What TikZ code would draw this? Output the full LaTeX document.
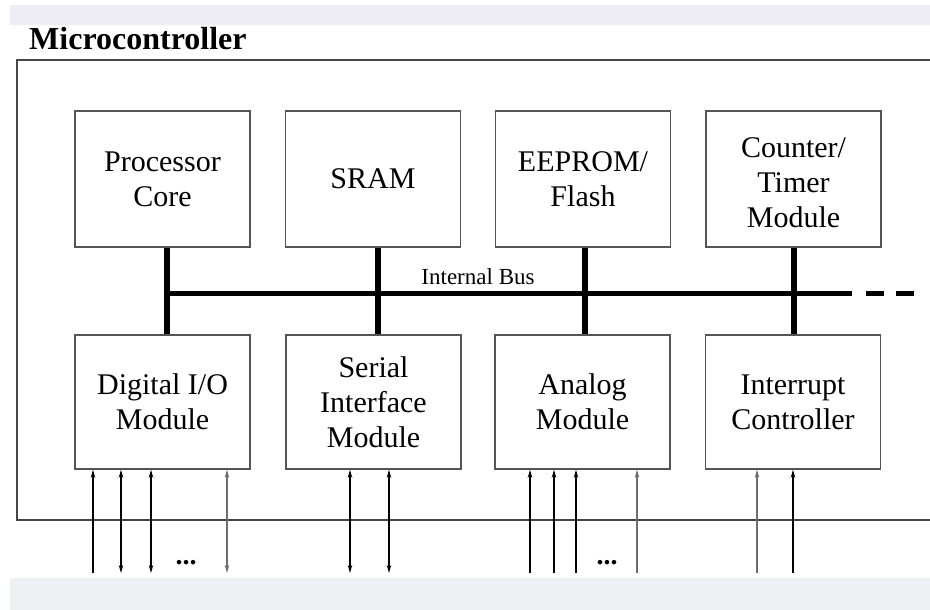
\documentclass[tikz,border=0pt]{standalone}
\usepackage{fontspec}
\setmainfont{Liberation Serif}
\usetikzlibrary{arrows.meta}
\definecolor{stripgray}{RGB}{237,237,243}
\definecolor{stripgraylow}{RGB}{238,240,244}
\definecolor{framegray}{RGB}{70,70,70}
\definecolor{boxgray}{RGB}{85,85,85}
\definecolor{siggray}{RGB}{110,110,110}
\begin{document}
\begin{tikzpicture}[x=1pt,y=-1pt,
  blk/.style={draw=boxgray,line width=1.5pt,minimum width=175pt,inner sep=0pt,
    align=center,font=\fontsize{30}{35}\selectfont},
  toprow/.style={blk,minimum height=136pt},
  botrow/.style={blk,minimum height=134pt},
  frameline/.style={draw=framegray,line width=2.2pt},
  busline/.style={line width=5pt},
  stub/.style={line width=6pt},
  sig/.style={line width=1.2pt},
  sigtip/.style={sig,-{Stealth[length=8pt,width=4.5pt]}},
  sigboth/.style={sig,{Stealth[length=8pt,width=4.5pt]}-{Stealth[length=8pt,width=4.5pt]}},
  dots/.style={font=\fontsize{28}{28}\selectfont\bfseries,inner sep=0pt}
]
\useasboundingbox (0,0) rectangle (930,610);
\fill[white] (0,0) rectangle (930,610);
\fill[stripgray] (10,5) rectangle (930,25);
\fill[stripgraylow] (10,578) rectangle (930,610);

% outer frame
\draw[frameline] (930,60) -- (17,60) -- (17,520) -- (930,520);
\node[anchor=base west,inner sep=0pt,font=\fontsize{32}{32}\selectfont\bfseries] (title) at (29,50) {Microcontroller};

% top row
\node[toprow] (pc) at (162.5,179) {Processor\\Core};
\node[toprow] (sram) at (373,179) {SRAM};
\node[toprow] (eep) at (583,179) {EEPROM/\\Flash};
\node[toprow] (ctr) at (793.5,179) {\rule{0pt}{6pt}\\[-14pt]Counter/\\Timer\\Module};

% bottom row
\node[botrow] (dio) at (162.5,402) {Digital I/O\\Module};
\node[botrow] (ser) at (373.5,402) {Serial\\Interface\\Module};
\node[botrow] (ana) at (582.5,402) {Analog\\Module};
\node[botrow] (irq) at (793,402) {Interrupt\\Controller};

% internal bus
\coordinate (busL) at (167,293);
\coordinate (busR) at (852,293);
\draw[busline] (busL) -- (busR);
\coordinate (d1a) at (866,293);
\coordinate (d1b) at (884,293);
\coordinate (d2a) at (896,293);
\coordinate (d2b) at (914,293);
\draw[busline] (d1a) -- (d1b);
\draw[busline] (d2a) -- (d2b);
\node[anchor=base,inner sep=0pt,font=\fontsize{23}{23}\selectfont] (buslbl) at (478,284) {Internal Bus};

% bus stubs
\draw[stub] ([xshift=4.5pt]pc.south) -- ([xshift=4.5pt]dio.north);
\draw[stub] ([xshift=5pt]sram.south) -- ([xshift=4.5pt]ser.north);
\draw[stub] ([xshift=2pt]eep.south) -- ([xshift=2.5pt]ana.north);
\draw[stub] ([xshift=0.5pt]ctr.south) -- ([xshift=1pt]irq.north);

% I/O lines: Digital I/O
\coordinate (a1) at (93,573);
\coordinate (a2) at (121,573);
\coordinate (a3) at (151,573);
\coordinate (a4) at (227,573);
\draw[sigtip] (a1) -- (a1 |- dio.south);
\draw[sigboth] (a2) -- (a2 |- dio.south);
\draw[sigboth] (a3) -- (a3 |- dio.south);
\draw[sigboth,draw=siggray] (a4) -- (a4 |- dio.south);
\node[dots] (dots1) at (186,563) {...};

% Serial interface
\coordinate (b1) at (350,573);
\coordinate (b2) at (389,573);
\draw[sigboth] (b1) -- (b1 |- ser.south);
\draw[sigboth] (b2) -- (b2 |- ser.south);

% Analog
\coordinate (c1) at (530,573);
\coordinate (c2) at (554,573);
\coordinate (c3) at (576,573);
\coordinate (c4) at (637,573);
\draw[sigtip] (c1) -- (c1 |- ana.south);
\draw[sigtip] (c2) -- (c2 |- ana.south);
\draw[sigtip] (c3) -- (c3 |- ana.south);
\draw[sigtip,draw=siggray] (c4) -- (c4 |- ana.south);
\node[dots] (dots2) at (607,563) {...};

% Interrupt
\coordinate (e1) at (757,573);
\coordinate (e2) at (793,573);
\draw[sigtip,draw=siggray] (e1) -- (e1 |- irq.south);
\draw[sigtip] (e2) -- (e2 |- irq.south);
\end{tikzpicture}
\end{document}
